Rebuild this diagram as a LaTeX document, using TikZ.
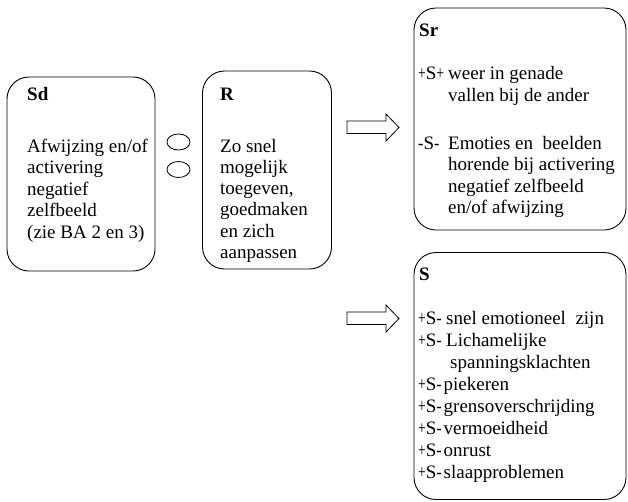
\documentclass[tikz,border=0pt]{standalone}
\usepackage{fontspec}
\usepackage{graphicx}
\setmainfont{Liberation Serif}
\usetikzlibrary{shapes.geometric}
\tikzset{
  box/.style={draw, line width=0.9pt, rounded corners=22pt, inner sep=0pt},
  txt/.style={anchor=base west, inner sep=0pt, font=\fontsize{19}{22}\selectfont},
  ttl/.style={txt, font=\fontsize{19}{22}\selectfont\bfseries},
  link/.style={draw, line width=0.8pt, ellipse, minimum width=23pt, minimum height=16pt, inner sep=0pt},
  fat arrow/.style={draw, line width=0.8pt, fill=white},
}
\newcommand\textline[3]{\node[txt] (#1) at (#2) {#3};}
% narrow plus and minus signs for the +S+ / +S- / -S- prefixes
\newcommand\pl{\scalebox{0.72}[1]{+}}
\newcommand\mi{\scalebox{0.85}[1]{-}}
\begin{document}
\begin{tikzpicture}[x=1pt, y=-1pt]
\useasboundingbox (0,0) rectangle (628,501);

% the four boxes
\node[box, minimum width=148pt, minimum height=194pt] (sd) at (81,174) {};
\node[box, minimum width=129pt, minimum height=198pt] (r) at (267,170) {};
\node[box, minimum width=212pt, minimum height=222pt] (sr) at (520,119) {};
\node[box, minimum width=212pt, minimum height=247pt] (s) at (520,376) {};

% the two small rings between Sd and R
\node[link] (c1) at (178.5,142) {};
\node[link] (c2) at (178.5,169.5) {};

% block arrows pointing at Sr and S
\draw[fat arrow] (347,121) -- (386,121) -- (386,114) -- (399,127.5) -- (386,141) -- (386,133.5) -- (347,133.5) -- cycle;
\draw[fat arrow] (347,312) -- (386,312) -- (386,305) -- (399,318.5) -- (386,332) -- (386,324.5) -- (347,324.5) -- cycle;

% Sd
\node[ttl] (sdt) at (27,100) {Sd};
\textline{sd1}{27,152}{Afwijzing en/of}
\textline{sd2}{27,173.5}{activering}
\textline{sd3}{27,195}{negatief}
\textline{sd4}{27,216.5}{zelfbeeld}
\textline{sd5}{27,238}{(zie BA 2 en 3)}

% R
\node[ttl] (rt) at (220,100) {R};
\textline{r1}{220,152}{Zo snel}
\textline{r2}{220,173.3}{mogelijk}
\textline{r3}{220,194.6}{toegeven,}
\textline{r4}{220,215.9}{goedmaken}
\textline{r5}{220,237.2}{en zich}
\textline{r6}{220,258.5}{aanpassen}

% Sr
\node[ttl] (srt) at (419,36) {Sr};
\textline{sra}{418,79}{\pl S\pl}
\textline{sr1}{448,79}{weer in genade}
\textline{sr2}{448,101}{vallen bij de ander}
\textline{srb}{418,149}{\mi S\mi}
\textline{sr3}{448,149}{Emoties en \ beelden}
\textline{sr4}{448,170.5}{horende bij activering}
\textline{sr5}{448,192}{negatief zelfbeeld}
\textline{sr6}{448,213.5}{en/of afwijzing}

% S
\node[ttl] (st) at (419,280) {S};
\textline{sp1}{418,324}{\pl S\mi}
\textline{s1}{446,324}{snel emotioneel \ zijn}
\textline{sp2}{418,346}{\pl S\mi}
\textline{s2}{446,346}{Lichamelijke}
\textline{s3}{450,368}{spanningsklachten}
\textline{sp4}{418,390}{\pl S\mi}
\textline{s4}{443.5,390}{piekeren}
\textline{sp5}{418,412}{\pl S\mi}
\textline{s5}{443.5,412}{grensoverschrijding}
\textline{sp6}{418,434}{\pl S\mi}
\textline{s6}{443.5,434}{vermoeidheid}
\textline{sp7}{418,456}{\pl S\mi}
\textline{s7}{443.5,456}{onrust}
\textline{sp8}{418,478}{\pl S\mi}
\textline{s8}{443.5,478}{slaapproblemen}
\end{tikzpicture}
\end{document}
